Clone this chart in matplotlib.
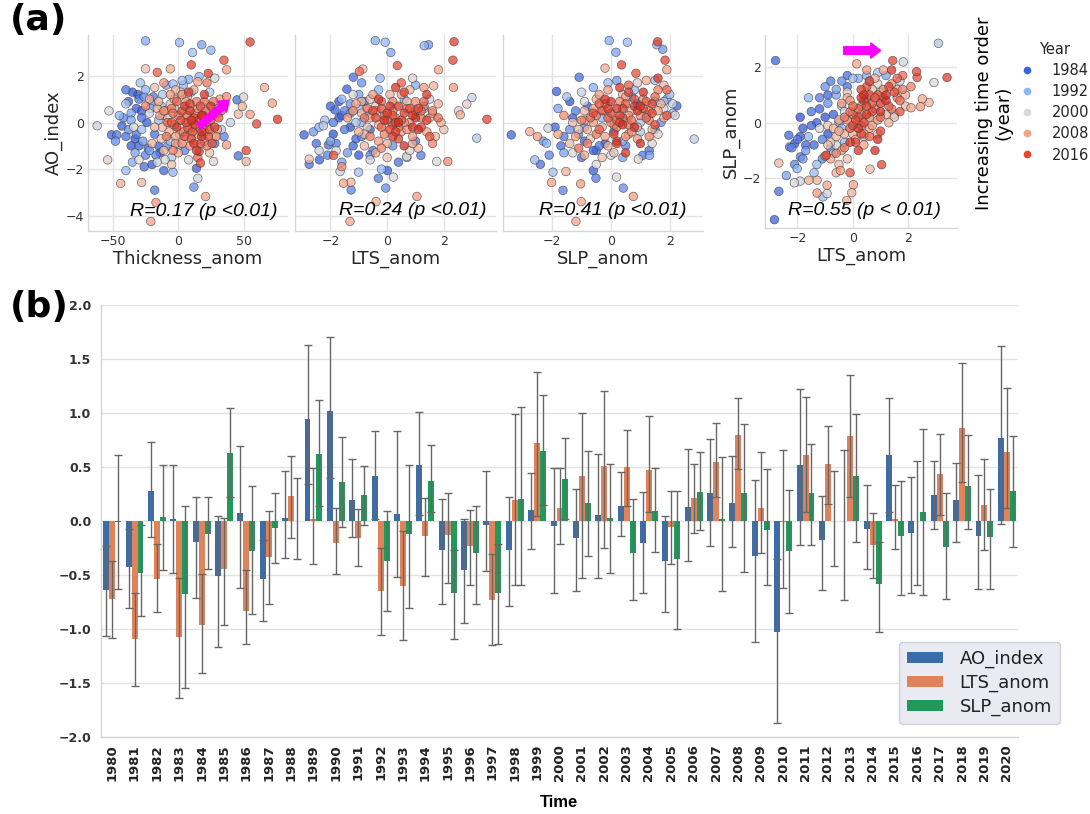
import numpy as np
import matplotlib
matplotlib.use("Agg")
import matplotlib.pyplot as plt
from matplotlib.lines import Line2D
from matplotlib.colors import Normalize, LinearSegmentedColormap

# ---------------- Panel (b) data ----------------
years = list(range(1980, 2021))
ao_val = [-0.64, -0.43, 0.28, 0.02, -0.19, -0.51, 0.07, -0.54, 0.03, 0.94, 1.015, 0.19, 0.42, 0.065, 0.52,
          -0.27, -0.45, -0.04, -0.265, 0.10, -0.046, -0.16, 0.055, 0.14, -0.20, -0.37, 0.13, 0.26, 0.165, -0.325,
          -1.03, 0.515, -0.18, 0.0, -0.07, 0.615, -0.115, 0.245, 0.19, -0.14, 0.77]
ao_hi = [-0.235, -0.07, 0.73, 0.52, 0.22, 0.05, 0.69, -0.18, 0.46, 1.63, 1.70, 0.57, 0.83, 0.83, 1.01,
         0.20, 0.015, 0.46, 0.225, 0.44, 0.49, 0.30, 0.62, 0.45, 0.27, 0.05, 0.67, 0.76, 0.60, 0.38,
         -0.355, 1.225, 0.23, 0.66, 0.33, 1.14, 0.405, 0.56, 0.54, 0.425, 1.62]
ao_lo = [-1.065, -0.81, -0.15, -0.48, -0.71, -1.17, -0.62, -0.93, -0.34, 0.34, 0.40, -0.15, 0.02, -0.52, 0.06,
         -0.765, -0.94, -0.46, -0.79, -0.26, -0.67, -0.645, -0.525, -0.135, -0.67, -0.845, -0.37, -0.23, -0.24, -1.12,
         -1.87, -0.22, -0.635, -0.735, -0.445, 0.085, -0.67, -0.07, -0.195, -0.625, -0.03]
lts_val = [-0.72, -1.09, -0.54, -1.07, -0.96, -0.44, -0.83, -0.33, 0.23, 0.02, -0.20, -0.16, -0.65, -0.60, -0.14,
           -0.13, -0.23, -0.73, 0.19, 0.72, 0.12, 0.42, 0.51, 0.50, 0.47, -0.055, 0.215, 0.55, 0.80, 0.125,
           -0.01, 0.615, 0.525, 0.79, -0.22, 0.015, 0.0, 0.435, 0.86, 0.145, 0.64]
lts_hi = [-0.37, -0.67, -0.21, -0.53, -0.49, 0.03, -0.45, 0.09, 0.60, 0.49, 0.12, 0.11, -0.25, -0.09, 0.21,
          0.26, 0.10, -0.31, 0.99, 1.38, 0.49, 1.00, 1.20, 0.84, 0.97, 0.275, 0.53, 0.91, 1.14, 0.64,
          0.66, 1.15, 0.88, 1.355, 0.07, 0.33, 0.56, 0.805, 1.46, 0.575, 1.235]
lts_lo = [-1.08, -1.53, -0.84, -1.64, -1.41, -0.96, -1.14, -0.77, -0.16, -0.40, -0.49, -0.42, -1.06, -1.10, -0.51,
          -0.57, -0.59, -1.15, -0.59, 0.05, -0.21, -0.53, -0.25, 0.14, 0.08, -0.40, -0.115, 0.225, 0.48, -0.30,
          -0.62, 0.08, 0.16, 0.225, -0.525, -0.255, -0.59, 0.06, 0.365, -0.27, 0.12]
slp_val = [-0.005, -0.485, 0.04, -0.68, -0.12, 0.63, -0.28, -0.065, 0.0, 0.62, 0.36, 0.24, -0.37, -0.12, 0.37,
           -0.67, -0.30, -0.67, 0.20, 0.65, 0.385, 0.17, 0.03, -0.30, 0.09, -0.35, 0.265, 0.02, 0.26, -0.08,
           -0.275, 0.26, 0.0, 0.42, -0.585, -0.14, 0.085, -0.245, 0.32, -0.15, 0.275]
slp_hi = [0.61, -0.04, 0.52, 0.14, 0.22, 1.05, 0.32, 0.26, 0.40, 1.12, 0.78, 0.51, 0.09, 0.52, 0.70,
          -0.27, 0.14, -0.21, 1.06, 1.17, 0.77, 0.65, 0.525, 0.20, 0.49, 0.275, 0.64, 0.59, 0.90, 0.48,
          0.29, 0.715, 0.46, 0.99, -0.19, 0.37, 0.85, 0.26, 0.80, 0.30, 0.79]
slp_lo = [-0.63, -0.88, -0.45, -1.55, -0.44, 0.22, -0.86, -0.39, -0.35, 0.14, -0.055, -0.04, -0.83, -0.81, 0.08,
          -1.09, -0.77, -1.14, -0.59, 0.15, 0.015, -0.32, -0.48, -0.735, -0.29, -1.00, -0.08, -0.65, -0.47, -0.59,
          -0.855, -0.22, -0.42, -0.195, -1.03, -0.685, -0.685, -0.72, -0.07, -0.625, -0.245]
series_names = ["AO_index", "LTS_anom", "SLP_anom"]
series_colors = ["#3B6EA8", "#E1835A", "#1F9A5A"]

# ---------------- Panel (a) data ----------------
# Panel 1: Thickness_anom vs AO_index
p1_x = [-25, 1, 18, 11, 25, 55, 35, 37, 10, -6, -25, -16, 23, 28, 16, -11, -4, 3, 8, 15, 22, 66, 72, 60, 76, 50, 45, 37, 49, 46, 55,
        -62, -53, -51, -47, -43, -40, -36, -54, -40, -44, -28, -18, -17, -21, -11, -4, 12, 15, 14, 17, 27, 21, 46, 52, 52, 37, 16,
        -35, -30, -32, -28, -38, -33, -30, -25, -35, -20, -22, -18, -15, -20, -12, -25, -8, -5, -28, -40, -15, 5, 10, 28, 30, 33, -45,
        -30, -10, 2, -22, 20, 40,
        -10, -5, 0, 5, 8, 12, 15, 18, 20, -2, -7, 3, 10, 25, 22, -15, -3, 7, -12, 25, 28, -20, -25, 13, 0, -5, 32, 18, 6, -8, 15, -2, -18]
p1_y = [3.5, 3.43, 3.33, 3.0, 3.1, 3.45, 2.67, 2.26, 2.47, 2.3, 2.3, 2.15, 2.1, 1.9, 1.97, 1.7, 1.65, 1.8, 1.85, 1.75, 1.7, 1.5, 0.83, -0.06, 0.14, 1.09, 0.97, 1.11, 0.69, 0.36, 0.35,
        -0.14, 0.5, -0.53, -0.53, -0.15, 1.4, 0.4, -1.6, -2.06, -2.61, -2.57, -2.9, -3.43, -4.24, -2.06, -2.13, -2.77, -2.39, -1.96, -1.74, -1.67, -3.17, -1.43, -1.2, -1.67, -0.96, -1.24,
        1.3, 1.0, 0.6, 0.2, -0.3, -0.7, -1.0, -1.4, -1.7, -1.8, -1.2, -0.5, 0.1, 0.8, 1.2, 1.4, -1.0, -1.5, -0.3, 0.8, -1.0, -1.2, 1.3, -0.9, 0.4, -0.3, 0.3,
        -1.6, -1.6, 1.3, 0.4, -0.4, 0.0,
        0.5, 0.0, 0.3, 0.7, -0.3, 0.2, 0.6, -0.6, 0.9, -0.6, -0.4, -0.9, -0.7, 0.1, -1.0, 0.9, 1.0, 1.1, -0.2, 0.7, -0.2, -0.9, 0.7, -0.1, -1.3, -1.8, 1.0, 0.3, 0.0, 0.2, -1.5, 1.4, 1.5]
p1_year = [1991, 1993, 1990, 1994, 1992, 2017, 2015, 2008, 2016, 2007, 2004, 2014, 2017, 1999, 1992, 2009, 1993, 1994, 1991, 2008, 2012, 2007, 2008, 2016, 2018, 2001, 1985, 2010, 2006, 2005, 2009,
           1998, 2000, 1984, 1986, 1983, 1985, 1990, 2002, 1993, 2007, 2005, 1986, 2009, 2008, 1984, 1992, 1988, 1999, 1983, 2016, 2001, 2008, 1985, 2016, 2006, 2009, 2017,
           1982, 1986, 1983, 1985, 1988, 1981, 1984, 1987, 1991, 1982, 1990, 1985, 1993, 1989, 1995, 1992, 1988, 1996, 1994, 1995, 1983, 1987, 1990, 1986, 1994, 1997, 1992,
           2000, 1999, 2001, 1999, 2002, 1998,
           2010, 2015, 2012, 2018, 2014, 2016, 2011, 2019, 2013, 2008, 2006, 2010, 2017, 2015, 2012, 2007, 2009, 2005, 2005, 2020, 2018, 2006, 2011, 2019, 2007, 2004, 2009, 2020, 2016, 2003, 2013, 2006, 2004]
p1_more = [(-38, 0.9, 1984), (-42, 0.2, 1987), (-36, -1.0, 1982), (-27, -0.8, 1989), (-24, 0.0, 1983), (-19, 1.1, 1986),
           (-14, -1.3, 1981), (-33, -1.3, 1990), (-29, 1.7, 1994), (-9, 1.6, 1991), (-6, -0.8, 1995), (0, -1.0, 1993),
           (4, 1.6, 1992), (-26, -1.9, 1985), (-48, -0.8, 1988), (35, -0.6, 1987), (24, 1.3, 1996), (-12, 0.3, 1989),
           (-34, -0.2, 2001), (-16, -1.7, 1998), (8, -1.6, 2000), (-3, 0.6, 2002), (30, 0.6, 1997),
           (-4, 0.4, 2013), (2, 0.1, 2017), (4, -0.4, 2011), (9, 0.5, 2019), (11, -0.4, 2015), (14, 0.9, 2012),
           (16, 0.1, 2018), (19, -0.2, 2010), (21, 0.5, 2014), (23, -0.6, 2016), (26, 0.3, 2013), (-1, -0.2, 2020),
           (6, 0.9, 2008), (9, -1.0, 2009), (12, 1.4, 2006), (-6, 0.8, 2005), (-9, -0.6, 2012), (17, -0.9, 2016),
           (20, 1.2, 2019), (-14, 0.3, 2008), (-18, -0.2, 2006), (-22, 1.0, 2007), (29, -0.6, 2011), (31, 0.2, 2015),
           (3, 1.2, 2010), (-11, -1.2, 2005), (7, -0.2, 2014), (14, -1.2, 2018), (-2, -0.9, 2009), (24, -1.3, 2004),
           (-28, 0.5, 1983), (-32, -0.5, 1986), (-26, 1.1, 1988), (-23, -1.1, 1984), (-36, 0.1, 1990), (-21, 0.6, 1992),
           (-31, 1.2, 1981), (-17, -1.4, 1987), (-40, -0.6, 1985), (-13, 0.7, 1994),
           (-5, 0.6, 2011), (-1, 0.9, 2014), (3, 0.5, 2016), (7, 0.3, 2012), (9, 0.8, 2018), (13, 0.4, 2010),
           (17, 0.7, 2015), (19, 0.3, 2019), (22, 0.0, 2013), (24, -0.3, 2017), (11, -0.2, 2009), (5, -0.6, 2016),
           (1, -0.5, 2006), (-3, -0.1, 2008), (-8, 0.0, 2014), (-11, 0.5, 2010), (15, -0.5, 2007), (18, -0.4, 2020),
           (27, 0.9, 2012), (20, -0.8, 2005), (8, 1.3, 2017), (-6, 1.2, 2009), (-16, 0.6, 2006), (30, -0.3, 2008),
           (12, -0.9, 2019), (-4, -1.2, 2011), (26, -0.9, 2015), (10, 0.1, 2020), (-13, -0.7, 2004), (33, 0.5, 2013)]

# Panel 2: LTS_anom vs AO_index
p2_x = [-0.42, -0.07, 0.13, 1.31, 1.46, 2.36, 2.32, 0.36, -0.98, -0.86, -1.19, -0.25, 1.81, 1.64, 2.34, 2.99, 2.81, 2.52, 2.58, 3.52, 3.16,
        -2.93, -2.75, -2.75, -2.39, -1.89, -1.66, -1.6, -1.54, -1.28, -1.27, -1.31, -1.01, -0.39, -0.31, 0.01, 0.22, -0.05, 1.05, 0.69, 1.19, 1.75, 2.14,
        -1.84, -1.42, -2.25, -2.07,
        -1.7, -1.5, -1.9, -1.3, -1.0, -1.2, -0.9, -0.7, -1.6, -1.4, -0.5, -0.3, -2.2, -0.8, -1.1, 0.2, 0.6, 1.0, -2.4, 1.3,
        -1.8, -0.6, 0.8, -0.4, 1.5,
        -0.8, -0.5, -0.2, 0.0, 0.2, 0.3, 0.5, 0.7, 0.9, 1.0, 1.2, 1.4, 0.4, -0.3, -1.0, 0.1, 0.8, 1.6, -0.6, 0.6, -0.1, 1.1, -1.2, 0.3, 0.9, -0.4, 1.7, 1.3, 0.0, -0.7, 1.9, 0.5]
p2_y = [3.51, 3.44, 3.0, 3.29, 3.33, 3.46, 2.67, 2.44, 2.19, 2.29, 1.94, 1.9, 2.26, 1.57, 1.5, 1.07, 0.79, 0.5, 0.33, 0.14, -0.67,
        -0.53, -1.57, -1.79, -1.6, -1.41, -2.1, -1.89, -2.6, -2.56, -2.89, -4.24, -2.13, -3.39, -2.39, -2.06, -2.34, -2.81, -3.17, -1.46, -1.41, -1.67, -1.67,
        0.54, 1.43, -0.14, -0.96,
        0.2, -0.3, -0.5, 0.8, 1.2, -1.0, -0.6, 0.3, 1.0, -1.3, -1.2, 1.4, 0.1, 0.9, 0.0, -1.0, 1.0, -0.8, -0.2, 0.6,
        -1.2, -1.6, -1.2, 0.7, 1.0,
        0.2, 0.5, -0.2, 0.4, 0.9, -0.4, 0.1, 0.6, -0.2, 0.9, 0.2, -0.4, -0.7, -0.8, -0.4, 1.2, 1.4, 0.5, 1.0, -1.0, 0.1, -1.1, 0.5, 0.0, 0.3, -1.3, -0.6, 1.5, -1.5, -0.2, 0.0, 1.7]
p2_year = [1991, 1993, 1990, 1992, 1989, 2017, 2016, 2015, 2013, 2005, 1985, 1993, 2008, 2006, 2009, 1998, 2002, 2001, 2007, 2016, 1996,
           1984, 2004, 1985, 1983, 2015, 1999, 2010, 2008, 2006, 1987, 2008, 1994, 2007, 1986, 1983, 2000, 1988, 2009, 2001, 1986, 2000, 2010,
           1984, 1983, 1997, 1985,
           1982, 1986, 1981, 1988, 1990, 1984, 1987, 1991, 1993, 1989, 1985, 1992, 1994, 1983, 1995, 1988, 1990, 1986, 1992, 1994,
           2000, 1999, 2001, 2002, 1998,
           2012, 2016, 2014, 2018, 2011, 2017, 2015, 2013, 2019, 2010, 2012, 2008, 2016, 2009, 2007, 2006, 2005, 2011, 2004, 2020, 2019, 2006, 2010, 2017, 2020, 2007, 2005, 2009, 2004, 2003, 2007, 2014]
p2_more = [(-1.0, -1.4, 1982), (-1.5, 0.5, 1987), (-2.0, 0.7, 1984), (-1.8, -0.9, 1986), (-0.6, -0.3, 1983), (-0.9, 1.7, 1988),
           (-1.3, -0.2, 1981), (-2.6, -0.4, 1989), (0.4, -1.7, 1985), (1.0, 1.6, 1991), (-0.2, -2.0, 1993), (-1.6, -1.7, 1990),
           (0.7, -1.5, 1995), (-2.1, -1.4, 1987), (-1.2, 1.2, 2000), (0.9, 1.9, 2001), (-2.4, -1.2, 1998),
           (-0.7, 0.6, 2013), (-0.4, 0.2, 2017), (-0.1, -0.5, 2011), (0.1, 0.7, 2019), (0.2, 0.3, 2015), (0.4, -0.2, 2012),
           (0.6, 0.4, 2018), (0.8, 0.0, 2010), (1.0, 0.5, 2014), (1.2, -0.2, 2016), (1.3, 0.9, 2013), (-0.3, 1.0, 2020),
           (0.5, 1.2, 2008), (0.9, -0.6, 2009), (1.5, 0.2, 2006), (-0.9, 0.4, 2005), (-0.6, -0.6, 2012), (1.1, 0.6, 2016),
           (0.3, 1.5, 2019), (-1.1, 0.8, 2008), (0.0, -0.9, 2006), (1.8, 0.8, 2007), (1.6, -0.9, 2011), (-0.2, 0.6, 2015),
           (0.7, -0.3, 2010), (-0.8, -1.0, 2005), (0.2, -0.1, 2014), (1.4, 1.2, 2018), (-1.4, 0.2, 2009), (2.0, -0.3, 2004),
           (-1.6, 0.3, 1983), (-1.9, 0.0, 1986), (-1.3, 0.4, 1988), (-1.1, -0.7, 1984), (-2.0, -0.8, 1990), (-0.9, 0.0, 1992),
           (-1.7, 0.9, 1981), (-0.6, -1.4, 1987), (-2.5, -0.9, 1985), (-1.0, 0.6, 1994),
           (-0.4, 0.5, 2011), (-0.2, 0.9, 2014), (0.0, 0.1, 2016), (0.2, 0.5, 2012), (0.4, 0.7, 2018), (0.6, 0.0, 2010),
           (0.8, 0.6, 2015), (1.0, 0.2, 2019), (1.2, 0.5, 2013), (1.4, 0.1, 2017), (0.5, -0.4, 2009), (0.1, -0.3, 2016),
           (-0.3, -0.1, 2006), (-0.6, 0.2, 2008), (-0.1, 0.3, 2014), (0.3, 0.2, 2010), (0.9, -0.9, 2007), (1.1, -0.3, 2020),
           (1.3, 0.7, 2012), (0.7, 0.9, 2005), (0.6, 1.3, 2017), (-0.5, 1.2, 2009), (-0.9, 0.9, 2006), (1.6, 0.4, 2008),
           (0.2, -0.6, 2019), (-0.2, -1.1, 2011), (1.5, -0.6, 2015), (0.4, 0.0, 2020), (-0.8, -0.5, 2004), (1.8, 0.2, 2013)]

# Panel 3: SLP_anom vs AO_index
p3_x = [-0.06, 0.56, 0.17, 1.56, 1.76, 1.59, 1.84, 1.9, -0.2, 0.36, 0.85, -1.08, 1.5, 2.1, 2.24, 2.18, 2.83,
        -3.39, -2.76, -2.5, -2.59, -2.4, -1.97, -2.02, -1.53, -1.63, -1.03, -1.01, -1.19, -0.6, -0.51, 0.19, 0.42, 0.76, 0.93, 1.08, 1.31, -1.85, -2.14, -2.19,
        -1.2, -0.9, -1.4, -0.5, -0.2, 0.5, 1.2, 1.5, 0.8, -1.5, -0.6, 0.2, 1.0, -1.7, 1.7, -0.3, 2.0, 0.4,
        -1.3, 0.0, 1.4, 0.9, 1.8, -0.9,
        -1.0, -0.6, -0.4, -0.1, 0.1, 0.3, 0.5, 0.7, 0.9, 1.1, 1.3, -0.2, 0.2, 0.6, -0.8, -0.5, 0.4, 1.6, -1.3, 1.0, 0.0, 1.4, -1.6, 0.3, 0.8, -0.9, 1.8, -0.1, -0.3, -0.7, 1.2, 0.6, -1.1, 1.9, -1.8, 0.5]
p3_y = [3.51, 3.44, 3.01, 3.33, 3.14, 3.46, 2.67, 2.26, 2.33, 2.47, 2.11, 1.94, 1.8, 0.8, 0.71, 0.31, -0.71,
        -0.53, -0.39, -0.6, -1.6, -1.79, -2.13, -2.57, -2.1, -2.91, -2.63, -3.39, -4.24, -2.06, -2.39, -2.34, -2.81, -3.17, -1.57, -1.41, -1.41, 1.33, -0.24, -0.89,
        0.5, -0.8, -0.3, -1.2, -0.9, -1.0, 0.3, 0.9, 1.4, 1.1, 1.5, 1.8, -0.4, -1.0, 0.0, 0.2, 1.2, -1.5,
        -1.3, -1.4, -0.9, 1.7, 0.6, 0.9,
        0.1, 0.4, -0.3, 0.6, -0.1, 0.3, 0.8, 0.1, 0.5, 1.0, 0.5, -0.6, -0.8, -0.5, -0.3, 1.0, 1.2, 1.4, 0.0, -0.9, 0.9, -0.3, 0.3, 0.0, -0.2, -1.4, 1.6, 1.4, -1.5, -0.7, 1.8, 1.6, -1.1, 0.3, -0.5, -1.3]
p3_year = [1991, 1993, 1990, 1992, 1989, 2017, 2016, 2008, 2007, 2016, 2015, 1985, 1993, 1998, 1984, 2001, 1997,
           1984, 2007, 2009, 1993, 1985, 1994, 2008, 2006, 1987, 2009, 2007, 2008, 1983, 1986, 2000, 1988, 2009, 2001, 1986, 1990, 1983, 1999, 1992,
           1986, 1983, 1988, 1984, 1981, 1987, 1990, 1992, 1993, 1994, 1991, 1989, 1995, 1985, 1988, 1992, 1994, 1990,
           2000, 1999, 2001, 2002, 1998, 2000,
           2012, 2016, 2014, 2018, 2011, 2017, 2015, 2013, 2019, 2010, 2012, 2008, 2016, 2009, 2007, 2006, 2005, 2011, 2004, 2020, 2019, 2006, 2010, 2017, 2020, 2007, 2005, 2009, 2004, 2003, 2007, 2014, 2013, 2015, 2008, 2018]
p3_more = [(-0.8, 0.7, 1982), (-1.1, -0.5, 1987), (-1.9, -0.2, 1984), (-0.4, -1.0, 1986), (0.1, -0.4, 1983), (0.7, 1.1, 1988),
           (-1.4, 0.9, 1981), (-2.3, -0.8, 1989), (1.3, -1.2, 1985), (1.9, 1.0, 1991), (-0.1, 1.7, 1993), (-1.6, -1.3, 1990),
           (1.0, 0.0, 1995), (-2.1, -1.4, 1987), (2.1, 0.4, 1992), (-0.5, -1.8, 2000), (1.6, -0.5, 2001), (-1.0, 1.3, 1998),
           (-0.7, 0.2, 2013), (-0.3, 0.5, 2017), (0.0, 0.0, 2011), (0.2, 0.6, 2019), (0.4, 0.2, 2015), (0.6, -0.1, 2012),
           (0.8, 0.7, 2018), (1.0, 0.3, 2010), (1.2, 0.9, 2014), (1.4, 0.4, 2016), (1.5, 1.1, 2013), (-0.2, 1.0, 2020),
           (0.5, 1.1, 2008), (0.9, -0.7, 2009), (1.7, 0.8, 2006), (-0.9, 0.5, 2005), (-0.5, -0.5, 2012), (1.1, 0.6, 2016),
           (0.3, 1.5, 2019), (-1.2, -0.6, 2008), (-0.1, -1.0, 2006), (1.8, 0.2, 2007), (1.3, -0.6, 2011), (-0.4, 0.8, 2015),
           (0.7, -0.4, 2010), (-1.4, -0.9, 2005), (0.2, 0.1, 2014), (1.6, 1.9, 2018), (-0.6, 0.0, 2009), (0.1, -1.3, 2004),
           (-1.3, 0.2, 1983), (-1.6, -0.6, 1986), (-0.9, -0.2, 1988), (-0.6, -1.2, 1984), (-1.8, 0.6, 1990), (0.4, -0.8, 1992),
           (0.9, 0.8, 1981), (1.5, -0.3, 1987), (-1.0, -1.5, 1985), (1.8, 0.9, 1994),
           (-0.5, 0.3, 2011), (-0.2, 0.8, 2014), (0.0, 0.4, 2016), (0.2, -0.2, 2012), (0.4, 0.6, 2018), (0.6, 0.3, 2010),
           (0.8, 1.0, 2015), (1.0, 0.7, 2019), (1.2, 0.2, 2013), (1.4, 0.8, 2017), (0.5, -0.6, 2009), (0.1, -0.5, 2016),
           (-0.3, -0.2, 2006), (-0.6, 0.6, 2008), (-0.1, 0.2, 2014), (0.3, 0.9, 2010), (0.9, -0.2, 2007), (1.1, 1.3, 2020),
           (1.3, 0.1, 2012), (0.7, 0.5, 2005), (0.6, 1.3, 2017), (-0.4, 1.2, 2009), (-0.9, 0.1, 2006), (1.6, 0.5, 2008),
           (0.2, -0.9, 2019), (-0.8, -0.9, 2011), (1.5, -0.1, 2015), (0.4, -0.1, 2020), (-1.1, -0.3, 2004), (1.9, 1.4, 2013)]

# Panel 4: LTS_anom vs SLP_anom
p4_x = [3.09, 2.93, 3.4, 2.3, 2.32, 1.44, 1.82, 0.14, -2.79, 2.51, 2.44, 2.75, 2.1,
        -2.31, -2.28, -2.1, -2.67, -1.89, -2.01, -2.11, -2.67, -2.83, -1.59, -1.29, -0.93, -0.93, -1.29, -1.08, -0.22, -0.04, 0.02, 0.62, 1.04, -0.96, -0.1, -0.45,
        -1.8, -1.5, -1.2, -1.0, -0.8, -0.6, -1.4, -1.1, -0.9, -0.5, -1.7, -1.3, -0.3, -0.7, -2.0, 0.2, 0.6, 1.2, -0.4, -1.6, 0.4, -0.9,
        -1.2, -0.6, 1.0, 1.5, -0.2,
        -0.3, 0.0, 0.2, 0.4, 0.5, 0.7, 0.9, 1.0, 1.2, 1.4, 1.6, 0.1, 0.3, 0.6, -0.5, -0.2, 0.8, 1.8, -0.8, 0.9, -0.1, 1.3, -1.0, 0.3, 0.8, -0.6, 1.9, 0.5, -0.2, -0.9, 1.1, 1.6, 0.0, 0.7, -0.4, 0.4]
p4_y = [2.86, 1.45, 1.63, 1.84, 1.63, 2.24, 2.19, 2.12, 2.24, 0.86, 0.58, 0.73, 0.54,
        -0.45, -0.87, -0.75, -1.45, -1.23, -1.65, -2.16, -2.47, -3.49, -2.07, -2.07, -2.25, -2.55, -2.53, -2.67, -2.8, -2.52, -2.23, -1.67, -1.51, -1.17, -1.8, -1.72,
        -0.2, 0.4, 0.5, 1.3, 1.5, 1.0, -0.8, -1.3, -0.4, 0.0, -1.0, -1.5, -0.7, -1.1, -0.6, 1.6, 1.5, 1.7, 0.6, 0.9, -0.5, 1.0,
        -0.2, -0.8, 1.1, 0.3, 1.1,
        0.2, -0.1, 0.5, 0.0, 0.9, 0.4, 1.0, 0.2, 0.8, 1.4, 0.9, -0.6, -0.4, -0.2, -0.3, 0.9, 1.6, 1.2, -0.7, -0.6, -0.7, 0.0, -1.2, 1.2, -1.0, -1.8, 0.6, 1.9, -1.3, -0.1, 1.9, 1.6, 0.3, 0.7, -1.0, 0.8]
p4_year = [1996, 2000, 2017, 2016, 2015, 2016, 1999, 2008, 1984, 2007, 2009, 2006, 2008,
           1984, 1985, 1983, 2005, 1986, 1992, 2000, 1985, 1983, 2007, 2006, 2008, 1999, 2009, 1993, 2007, 2006, 2008, 2005, 2016, 2017, 2015, 2009,
           1982, 1985, 1983, 1988, 1986, 1990, 1984, 1987, 1981, 1991, 1989, 1993, 1992, 1994, 1986, 1991, 1993, 1990, 1994, 1992, 1995, 1984,
           2000, 1999, 2001, 1998, 2002,
           2012, 2016, 2014, 2018, 2011, 2017, 2015, 2013, 2019, 2010, 2012, 2008, 2016, 2009, 2007, 2006, 2005, 2011, 2004, 2020, 2019, 2006, 2010, 2017, 2020, 2007, 2005, 2009, 2004, 2003, 2007, 2014, 2013, 2015, 2008, 2018]
p4_more = [(-1.9, -0.5, 1982), (-2.2, -0.9, 1987), (-1.5, -0.1, 1984), (-1.2, 0.9, 1986), (-0.7, 0.3, 1983), (-0.4, 1.5, 1988),
           (-1.0, 0.2, 1981), (-1.8, -1.3, 1989), (-0.2, 1.7, 1985), (0.5, 1.7, 1991), (-1.4, -1.8, 1993), (-2.4, -1.9, 1990),
           (0.9, 1.8, 1995), (-0.8, -0.9, 1987), (-1.6, -0.5, 1992), (-0.3, 0.4, 2000), (0.9, 1.4, 2001), (-1.9, -2.1, 1998),
           (1.7, 1.5, 1997),
           (-0.1, 0.4, 2013), (0.1, 0.1, 2017), (0.3, 0.6, 2011), (0.5, 0.3, 2019), (0.6, 1.0, 2015), (0.8, 0.5, 2012),
           (1.0, 0.7, 2018), (1.1, 1.2, 2010), (1.3, 0.6, 2014), (1.5, 1.1, 2016), (1.7, 0.8, 2013), (0.2, -0.2, 2020),
           (0.4, -0.8, 2008), (0.7, -0.1, 2009), (1.2, 0.3, 2006), (-0.6, -0.5, 2005), (-0.3, -0.9, 2012), (1.0, -0.3, 2016),
           (0.3, 0.9, 2019), (-0.8, -1.3, 2008), (0.0, -0.4, 2006), (1.9, 1.0, 2007), (2.1, 1.3, 2011), (0.5, 1.3, 2015),
           (0.9, 0.1, 2010), (-0.5, -1.5, 2005), (0.6, -0.5, 2014), (1.4, 1.9, 2018), (-0.1, 0.8, 2009), (1.5, 0.2, 2004),
           (-1.3, 0.0, 1983), (-1.1, -0.6, 1986), (-0.9, 0.7, 1988), (-1.7, -0.8, 1984), (-0.6, 1.2, 1990), (-0.4, -0.2, 1992),
           (-1.9, 0.2, 1981), (-2.1, -1.5, 1987), (-0.2, 1.3, 1985), (0.0, 1.6, 1994),
           (-0.2, 0.1, 2011), (0.0, 0.6, 2014), (0.2, 0.2, 2016), (0.3, -0.1, 2012), (0.5, 0.6, 2018), (0.6, 0.2, 2010),
           (0.8, 0.9, 2015), (1.0, 0.4, 2019), (1.1, 0.9, 2013), (1.3, 1.3, 2017), (0.4, -0.4, 2009), (0.1, -0.7, 2016),
           (-0.3, -0.4, 2006), (-0.5, 0.1, 2008), (-0.1, -0.2, 2014), (0.3, 0.3, 2010), (0.9, -0.4, 2007), (1.2, 1.0, 2020),
           (1.4, 0.5, 2012), (0.7, 1.2, 2005), (0.6, 1.5, 2017), (-0.4, 0.7, 2009), (-0.7, -0.2, 2006), (1.6, 1.2, 2008),
           (0.2, -1.0, 2019), (-0.6, -1.1, 2011), (1.7, 0.4, 2015), (0.4, 1.0, 2020), (-0.9, -0.8, 2004), (1.8, 1.7, 2013)]

legend_years = [1984, 1992, 2000, 2008, 2016]
r_texts = ["R=0.17 (p <0.01)", "R=0.24 (p <0.01)", "R=0.41 (p <0.01)", "R=0.55 (p < 0.01)"]

# ---------------- Figure ----------------
W, H = 1090, 814
fig = plt.figure(figsize=(W / 100, H / 100), dpi=100)
plt.rcParams['font.family'] = ['DejaVu Sans']

def fr(x0, y0, x1, y1):
    return [x0 / W, 1 - y1 / H, (x1 - x0) / W, (y1 - y0) / H]

cmap = LinearSegmentedColormap.from_list(
    'yearmap',
    [(0.0, '#2c4fd2'), (0.1, '#3d66de'), (0.3, '#8cb6f9'), (0.5, '#d9d9d9'),
     (0.7, '#f8a487'), (0.9, '#e8432f'), (1.0, '#d62a1e')])
norm = Normalize(1980, 2020)
grid_c = '#e3e3e3'
spine_c = '#d5d5d5'
tick_c = '#333333'

def style_scatter_ax(ax):
    ax.set_facecolor('white')
    ax.grid(True, color=grid_c, lw=1.0)
    ax.set_axisbelow(True)
    for s in ['top', 'right']:
        ax.spines[s].set_visible(False)
    for s in ['left', 'bottom']:
        ax.spines[s].set_color(spine_c)
        ax.spines[s].set_linewidth(1.0)
    ax.tick_params(length=0, labelsize=9, labelcolor=tick_c, pad=3)

ax1 = fig.add_axes(fr(88, 35, 288, 231))
ax2 = fig.add_axes(fr(295, 35, 496, 231))
ax3 = fig.add_axes(fr(503, 35, 703, 231))
ax4 = fig.add_axes(fr(765, 35, 957, 228))

def merge(xs, ys, yr, more):
    return (list(xs) + [m[0] for m in more], list(ys) + [m[1] for m in more],
            list(yr) + [m[2] for m in more])

panels = [(ax1,) + merge(p1_x, p1_y, p1_year, p1_more),
          (ax2,) + merge(p2_x, p2_y, p2_year, p2_more),
          (ax3,) + merge(p3_x, p3_y, p3_year, p3_more),
          (ax4,) + merge(p4_x, p4_y, p4_year, p4_more)]
for ax, xs, ys, yr in panels:
    style_scatter_ax(ax)
    order = np.argsort(yr, kind='stable')
    xs_a, ys_a, yr_a = np.array(xs)[order], np.array(ys)[order], np.array(yr)[order]
    ax.scatter(xs_a, ys_a, c=yr_a, cmap=cmap, norm=norm, s=38, alpha=0.75,
               edgecolors='#404040', linewidths=0.5, zorder=3)

for ax in (ax1, ax2, ax3):
    ax.set_ylim(-4.65, 3.75)
    ax.set_yticks([-4, -2, 0, 2])
ax1.set_xlim(-69, 84); ax1.set_xticks([-50, 0, 50])
ax2.set_xlim(-3.25, 3.84); ax2.set_xticks([-2, 0, 2])
ax3.set_xlim(-3.67, 3.13); ax3.set_xticks([-2, 0, 2])
ax4.set_xlim(-3.17, 3.76); ax4.set_xticks([-2, 0, 2])
ax4.set_ylim(-3.79, 3.16); ax4.set_yticks([-2, 0, 2])
ax2.tick_params(labelleft=False)
ax3.tick_params(labelleft=False)

lab_kw = dict(fontsize=13, color='#262626')
ax1.set_ylabel('AO_index', labelpad=2, **lab_kw)
ax1.set_xlabel('Thickness_anom', labelpad=1, **lab_kw)
ax2.set_xlabel('LTS_anom', labelpad=1, **lab_kw)
ax3.set_xlabel('SLP_anom', labelpad=1, **lab_kw)
ax4.set_xlabel('LTS_anom', labelpad=1, **lab_kw)
ax4.set_ylabel('SLP_anom', labelpad=2, **lab_kw)

r_pos = [(0.945, 0.10), (0.955, 0.107), (0.915, 0.107), (0.915, 0.09)]
for ax, t, (px, py) in zip((ax1, ax2, ax3, ax4), r_texts, r_pos):
    ax.text(px, py, t, transform=ax.transAxes, ha='right', va='center',
            fontsize=14, style='italic', family=['Liberation Sans', 'DejaVu Sans'],
            color='black', zorder=5)

# magenta arrows
ax1.annotate('', xy=(39, 0.95), xytext=(16, -0.17),
             arrowprops=dict(facecolor='magenta', edgecolor='magenta', width=5,
                             headwidth=10.5, headlength=7), zorder=6)
ax4.annotate('', xy=(1.0, 2.6), xytext=(-0.33, 2.6),
             arrowprops=dict(facecolor='magenta', edgecolor='magenta', width=5.5,
                             headwidth=11, headlength=7), zorder=6)

# year legend
handles = [Line2D([0], [0], marker='o', linestyle='none', markersize=4.5,
                  markerfacecolor=cmap(norm(y)), markeredgecolor=cmap(norm(y)))
           for y in legend_years]
leg_y = fig.legend(handles, [str(y) for y in legend_years], title='Year',
                   loc='upper left', bbox_to_anchor=(1018 / W, 1 - 39 / H),
                   frameon=False, fontsize=10.5, title_fontsize=10.5,
                   handlelength=0.8, handletextpad=1.3, labelspacing=0.42,
                   borderpad=0.2, borderaxespad=0.0)
for t in leg_y.get_texts():
    t.set_color('#262626')
leg_y.get_title().set_color('#262626')

fig.text(994 / W, 1 - 113 / H, 'Increasing time order\n(year)', rotation=90,
         ha='center', va='center', fontsize=13, color='black', linespacing=1.1)

fig.text(10 / W, 1 - 3 / H, '(a)', fontsize=26, fontweight='bold', va='top', ha='left')
fig.text(10 / W, 1 - 290 / H, '(b)', fontsize=26, fontweight='bold', va='top', ha='left')

# ---------------- Panel (b) bars ----------------
axb = fig.add_axes(fr(101, 305, 1018, 737))
axb.set_facecolor('white')
n = len(years)
xpos = np.arange(n)
bw = 0.8 / 3
vals = [ao_val, lts_val, slp_val]
his = [ao_hi, lts_hi, slp_hi]
los = [ao_lo, lts_lo, slp_lo]
for k in range(3):
    v = np.array(vals[k]); hi = np.array(his[k]); lo = np.array(los[k])
    pos = xpos + (k - 1) * bw
    axb.bar(pos, v, width=bw, color=series_colors[k], label=series_names[k],
            edgecolor='none', zorder=2)
    axb.errorbar(pos, v, yerr=[v - lo, hi - v], fmt='none', ecolor='#666666',
                 elinewidth=1.0, capsize=2.6, capthick=1.0, zorder=3)

axb.set_xlim(-0.5, n - 0.5)
axb.set_ylim(-2.0, 2.0)
axb.set_yticks(np.arange(-2.0, 2.01, 0.5))
axb.set_yticklabels([f"{v:.1f}".replace('-', '\u2212') for v in np.arange(-2.0, 2.01, 0.5)])
axb.set_xticks(xpos)
axb.set_xticklabels([str(y) for y in years], rotation=90)
axb.yaxis.grid(True, color=grid_c, lw=1.0)
axb.xaxis.grid(False)
axb.set_axisbelow(True)
for s in ['top', 'right']:
    axb.spines[s].set_visible(False)
for s in ['left', 'bottom']:
    axb.spines[s].set_color(spine_c)
    axb.spines[s].set_linewidth(1.0)
axb.tick_params(axis='y', length=0, labelsize=9, labelcolor=tick_c, pad=7)
axb.tick_params(axis='x', length=0, labelsize=9.5, labelcolor='#222222', pad=5)
for t in axb.get_yticklabels() + axb.get_xticklabels():
    t.set_fontweight('bold')
axb.set_xlabel('Time', fontsize=12, fontweight='bold', labelpad=10,
               family=['Liberation Sans', 'DejaVu Sans'])

legb = axb.legend(loc='upper left', bbox_to_anchor=(890 / W, 1 - 633 / H),
                  bbox_transform=fig.transFigure, fontsize=13, frameon=True,
                  facecolor='#EAEAF2', edgecolor='#cfcfd8', framealpha=1.0,
                  handlelength=2.0, handleheight=0.55, labelspacing=0.3,
                  borderpad=0.45, handletextpad=0.9, fancybox=True)
legb.set_zorder(10)
for t in legb.get_texts():
    t.set_color('#222222')

fig.savefig('out.png', dpi=100)
